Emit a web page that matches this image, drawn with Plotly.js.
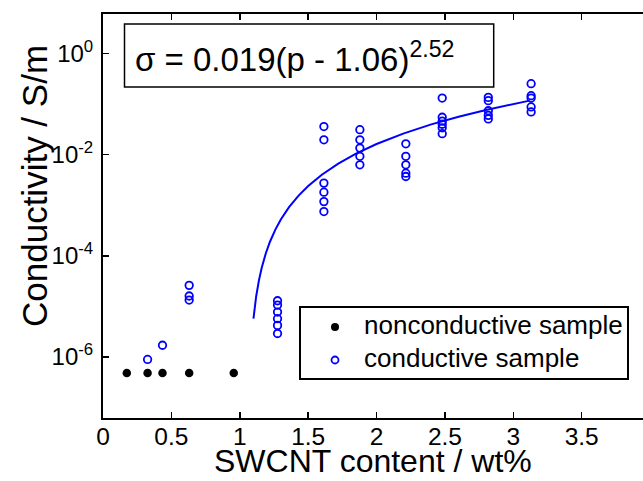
<!DOCTYPE html>
<html>
<head>
<meta charset="utf-8">
<script src="https://cdn.plot.ly/plotly-3.0.1.min.js"></script>
<style>html,body{margin:0;padding:0;background:#fff;}#chart{width:643px;height:481px;}</style>
</head>
<body>
<div id="chart"></div>
<script>
// Nonconductive samples (SWCNT wt%, conductivity S/m)
var nonX = [0.174, 0.326, 0.435, 0.63, 0.956];
var nonY = [4.8e-7, 4.8e-7, 4.8e-7, 4.8e-7, 4.8e-7];

// Conductive samples
var condX = [0.326, 0.435,
  0.63, 0.63, 0.63,
  1.276, 1.276, 1.276, 1.276, 1.276, 1.276,
  1.615, 1.615, 1.615, 1.615, 1.615, 1.615,
  1.878, 1.878, 1.878, 1.878, 1.878,
  2.214, 2.214, 2.214, 2.214, 2.214,
  2.48, 2.48, 2.48, 2.48, 2.48, 2.48,
  2.817, 2.817, 2.817, 2.817, 2.817,
  3.13, 3.13, 3.13, 3.13, 3.13];
var condY = [8.9e-7, 1.7e-6,
  2.6e-5, 1.6e-5, 1.33e-5,
  1.29e-5, 1.06e-5, 7.7e-6, 5.7e-6, 4.2e-6, 2.9e-6,
  0.036, 0.0197, 0.00274, 0.00181, 0.00118, 0.00075,
  0.0312, 0.0197, 0.0135, 0.0093, 0.0063,
  0.0164, 0.0093, 0.0063, 0.0043, 0.0037,
  0.132, 0.055, 0.046, 0.040, 0.034, 0.026,
  0.136, 0.117, 0.074, 0.060, 0.051,
  0.254, 0.147, 0.132, 0.088, 0.070];

// Percolation fit shown in the chart: sigma = A (p - pc)^t
var fitA = 0.019, fitPc = 1.06, fitT = 2.52;
var fitX = [1.10, 1.11, 1.12, 1.14, 1.16, 1.19, 1.22, 1.26, 1.30, 1.36, 1.43, 1.50, 1.60, 1.72, 1.85, 2.0, 2.2, 2.4, 2.6, 2.8, 3.0, 3.12];
var fitY = fitX.map(function (p) { return fitA * Math.pow(p - fitPc, fitT); });

var seriesNames = ['nonconductive sample', 'conductive sample'];
var yTickVals = [1e-6, 1e-4, 1e-2, 1];
var yTickText = ['10<sup>-6</sup>', '10<sup>-4</sup>', '10<sup>-2</sup>', '10<sup>0</sup>'];
var xTickVals = [0, 0.5, 1, 1.5, 2, 2.5, 3, 3.5];
var xTickText = ['0', '0.5', '1', '1.5', '2', '2.5', '3', '3.5'];

var FONT = 'Liberation Sans, Arial, Helvetica, sans-serif';

// plot-area geometry helpers (pixels -> paper)
var PL = 103, PW = 540, PB = 418, PH = 404;
function px(x) { return (x - PL) / PW; }
function py(y) { return (PB - y) / PH; }

var traces = [
  {x: nonX, y: nonY, type: 'scatter', mode: 'markers', name: seriesNames[0],
   marker: {symbol: 'circle', size: 8.5, color: '#000000', line: {width: 0}}},
  {x: condX, y: condY, type: 'scatter', mode: 'markers', name: seriesNames[1],
   marker: {symbol: 'circle-open', size: 7.5, color: '#0000ff', line: {width: 1.8, color: '#0000ff'}}},
  {x: fitX, y: fitY, type: 'scatter', mode: 'lines', name: 'fit',
   line: {color: '#0000ff', width: 2}}
];

var layout = {
  width: 643, height: 481,
  margin: {l: PL, r: 0, t: 14, b: 481 - PB, pad: 0},
  paper_bgcolor: '#ffffff', plot_bgcolor: '#ffffff',
  font: {family: FONT, color: '#000000', size: 24},
  showlegend: false,
  xaxis: {range: [0, 3.948], tickvals: xTickVals, ticktext: xTickText,
    ticks: 'inside', ticklen: 6, tickwidth: 1.5, tickcolor: '#000',
    showline: true, linewidth: 2, linecolor: '#000', mirror: 'ticks',
    showgrid: false, zeroline: false, ticklabelstandoff: -4,
    tickfont: {family: FONT, size: 24.5}},
  yaxis: {type: 'log', range: [-7.209, 0.783], tickvals: yTickVals, ticktext: yTickText,
    ticks: 'inside', ticklen: 6, tickwidth: 1.5, tickcolor: '#000',
    showline: true, linewidth: 2, linecolor: '#000', mirror: false,
    showgrid: false, zeroline: false, ticklabelstandoff: 3,
    tickfont: {family: FONT, size: 24}},
  shapes: [
    // equation box
    {type: 'rect', xref: 'paper', yref: 'paper', x0: px(124.5), x1: px(493.7), y0: py(87), y1: py(24),
     line: {color: '#000', width: 1.5}, fillcolor: 'rgba(0,0,0,0)'},
    // legend box
    {type: 'rect', xref: 'paper', yref: 'paper', x0: px(300), x1: px(628), y0: py(379), y1: py(307),
     line: {color: '#000', width: 2}, fillcolor: '#ffffff', layer: 'above'},
    // legend symbols
    {type: 'circle', xref: 'paper', yref: 'paper', x0: px(331), x1: px(339), y0: py(331), y1: py(323),
     line: {color: '#000', width: 0}, fillcolor: '#000000', layer: 'above'},
    {type: 'circle', xref: 'paper', yref: 'paper', x0: px(331.5), x1: px(338.5), y0: py(363.5), y1: py(356.5),
     line: {color: '#0000ff', width: 1.8}, fillcolor: 'rgba(0,0,0,0)', layer: 'above'}
  ],
  annotations: [
    {xref: 'paper', yref: 'paper', x: px(133), y: py(57), xanchor: 'left', yanchor: 'middle',
     showarrow: false, text: 'σ = 0.019(p - 1.06)<sup>2.52</sup>',
     font: {family: FONT, size: 33, color: '#000'}},
    {xref: 'paper', yref: 'paper', x: px(362), y: py(325), xanchor: 'left', yanchor: 'middle',
     showarrow: false, text: seriesNames[0], font: {family: FONT, size: 26, color: '#000'}},
    {xref: 'paper', yref: 'paper', x: px(362), y: py(358), xanchor: 'left', yanchor: 'middle',
     showarrow: false, text: seriesNames[1], font: {family: FONT, size: 26, color: '#000'}},
    {xref: 'paper', yref: 'paper', x: 0.5, y: py(481), xanchor: 'center', yanchor: 'bottom',
     showarrow: false, text: 'SWCNT content / wt%',
     font: {family: FONT, size: 32, color: '#000'}},
    {xref: 'paper', yref: 'paper', x: px(34), y: py(186), xanchor: 'center', yanchor: 'middle',
     showarrow: false, textangle: -90, text: 'Conductivity / S/m',
     font: {family: FONT, size: 35, color: '#000'}}
  ]
};

Plotly.newPlot('chart', traces, layout, {displayModeBar: false, staticPlot: true});
</script>
</body>
</html>
